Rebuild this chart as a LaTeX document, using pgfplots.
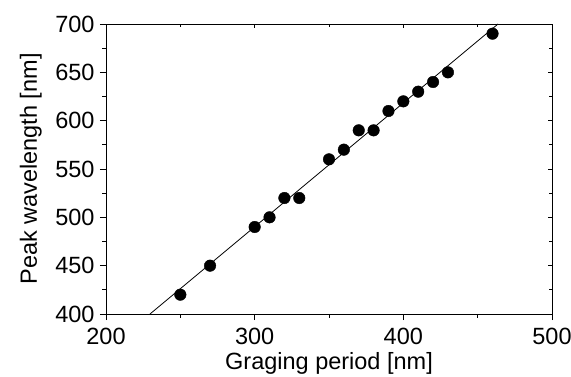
\documentclass[border=0pt]{standalone}
\usepackage{pgfplots}
\pgfplotsset{compat=1.18}
\usepackage{fontspec}
\setmainfont{Liberation Sans}
\begin{document}
\begin{tikzpicture}
\path[use as bounding box] (-106pt,-62pt) rectangle (465pt,314pt);
\begin{axis}[
  at={(0pt,0pt)}, anchor=south west,
  scale only axis, width=446pt, height=290pt,
  xmin=200, xmax=500, ymin=400, ymax=700,
  xtick={200,300,400,500}, ytick={400,450,...,700},
  minor x tick num=1, minor y tick num=1,
  xtick pos=bottom, ytick pos=left,
  tick align=outside,
  major tick length=6pt,
  minor tick length=3.5pt,
  axis line style={line width=0.9pt},
  every tick/.style={line width=0.8pt, black},
  /pgf/number format/assume math mode=true,
  ticklabel style={font=\fontsize{23.5}{27}\selectfont},
  xticklabel style={yshift=-5pt},
  yticklabel style={xshift=-2pt},
  label style={font=\fontsize{23.5}{27}\selectfont},
  xlabel={Graging period [nm]},
  ylabel={Peak wavelength [nm]},
  xlabel style={at={(axis description cs:0.5,-0.1907)}, anchor=base},
  ylabel style={at={(axis description cs:-0.155,0.5)}, anchor=base},
  clip=false,
]
\addplot[black, line width=0.8pt, no marks] coordinates {(229.6,400) (463.7,700)};
\addplot[only marks, mark=*, mark size=5.8pt, black] coordinates {
(250,420) (270,450) (300,490) (310,500) (320,520) (330,520)
(350,560) (360,570) (370,590) (380,590) (390,610) (400,620)
(410,630) (420,640) (430,650) (460,690)
};
\end{axis}
\begin{axis}[
  at={(0pt,0pt)}, anchor=south west,
  scale only axis, width=446pt, height=290pt,
  xmin=200, xmax=500, ymin=400, ymax=700,
  xtick={200,300,400,500}, ytick={400,450,...,700},
  minor x tick num=1, minor y tick num=1,
  xtick pos=top, ytick pos=right,
  tick align=inside,
  major tick length=4pt, minor tick length=3pt,
  xticklabels={}, yticklabels={},
  axis line style={line width=0.9pt},
  every tick/.style={line width=0.8pt, black},
]
\end{axis}
\end{tikzpicture}
\end{document}
